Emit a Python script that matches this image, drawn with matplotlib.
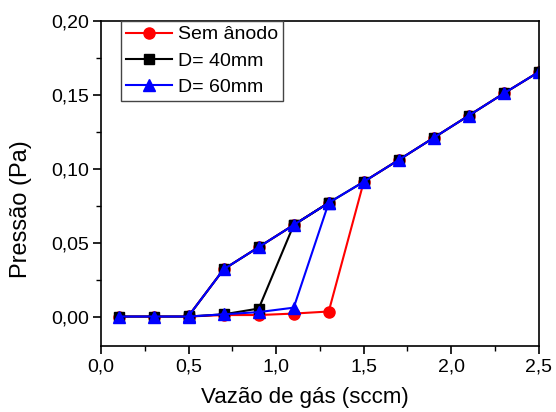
import matplotlib
matplotlib.use('Agg')
import matplotlib.pyplot as plt
from matplotlib.ticker import FuncFormatter, MultipleLocator

plt.rcParams['font.family'] = ['Liberation Sans', 'DejaVu Sans']

# gas flow (sccm), rising branch
flow_up = [0.1, 0.3, 0.5, 0.7, 0.9, 1.1, 1.3, 1.5, 1.7, 1.9, 2.1, 2.3, 2.5]
sem_anodo_up = [0.0, 0.0, 0.0, 0.001, 0.001, 0.002, 0.0034, 0.0912, 0.106, 0.121, 0.136, 0.151, 0.1655]
d40_up = [0.0, 0.0, 0.0, 0.0015, 0.0054, 0.062, 0.077, 0.0912, 0.106, 0.121, 0.136, 0.151, 0.1655]
d60_up = [0.0, 0.0, 0.0, 0.0015, 0.003, 0.006, 0.077, 0.0912, 0.106, 0.121, 0.136, 0.151, 0.1655]

# falling branch (flow decreasing)
flow_down = [1.3, 1.1, 0.9, 0.7, 0.5]
sem_anodo_down = [0.077, 0.062, 0.047, 0.032, 0.0005]
d40_down = [0.077, 0.062, 0.047, 0.032, 0.0005]
d60_down = [0.077, 0.062, 0.047, 0.032, 0.0005]

fig, ax = plt.subplots(figsize=(5.56, 4.12), dpi=100)

series = [
    ('Sem ânodo', sem_anodo_up, sem_anodo_down, 'red', 'o', 8),
    ('D= 40mm', d40_up, d40_down, 'black', 's', 6.5),
    ('D= 60mm', d60_up, d60_down, 'blue', '^', 9),
]
for label, up, down, color, marker, ms in series:
    ax.plot(flow_up, up, color=color, marker=marker, markersize=ms, linewidth=1.5, label=label)
    ax.plot(flow_down, down, color=color, marker=marker, markersize=ms, linewidth=1.5)

ax.set_xlim(0.0, 2.5)
ax.set_ylim(-0.02, 0.20)
ax.xaxis.set_major_locator(MultipleLocator(0.5))
ax.xaxis.set_minor_locator(MultipleLocator(0.25))
ax.yaxis.set_major_locator(MultipleLocator(0.05))
ax.yaxis.set_minor_locator(MultipleLocator(0.025))
ax.xaxis.set_major_formatter(FuncFormatter(lambda v, p: f'{v:.1f}'.replace('.', ',')))
ax.yaxis.set_major_formatter(FuncFormatter(lambda v, p: f'{v:.2f}'.replace('.', ',')))
ax.tick_params(which='major', direction='out', length=6, width=1.2, labelsize=14, pad=3)
ax.tick_params(which='minor', direction='out', length=3.5, width=1.0)
for s in ax.spines.values():
    s.set_linewidth(1.2)

ax.set_xlabel('Vazão de gás (sccm)', fontsize=16)
ax.set_ylabel('Pressão (Pa)', fontsize=17)
ax.xaxis.set_label_coords(0.465, -0.125)
ax.yaxis.set_label_coords(-0.158, 0.42)

leg = ax.legend(loc='upper left', bbox_to_anchor=(0.046, 1.0), fontsize=14, fancybox=False,
                edgecolor='#444444', framealpha=1, handlelength=2.35, borderpad=0.25,
                labelspacing=0.45, handletextpad=0.3, borderaxespad=0.0)
leg.get_frame().set_linewidth(1.0)

fig.subplots_adjust(left=0.182, right=0.969, top=0.949, bottom=0.16)
fig.savefig('out.png', dpi=100)
